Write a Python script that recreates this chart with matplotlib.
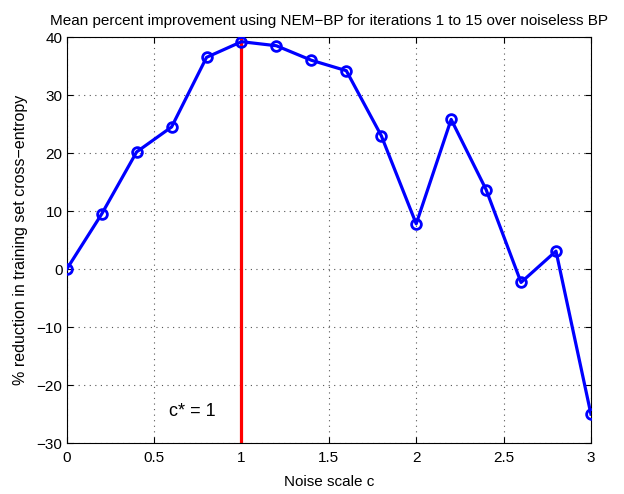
import matplotlib
matplotlib.use("Agg")
import matplotlib.pyplot as plt
import numpy as np

noise_scale = [0.0, 0.2, 0.4, 0.6, 0.8, 1.0, 1.2, 1.4, 1.6, 1.8, 2.0, 2.2, 2.4, 2.6, 2.8, 3.0]
reduction = [0.0, 9.5, 20.2, 24.5, 36.5, 39.2, 38.5, 36.0, 34.2, 23.0, 7.8, 25.8, 13.7, -2.3, 3.1, -25.0]
c_star = 1.0
x_ticks = [0, 0.5, 1, 1.5, 2, 2.5, 3]
x_tick_labels = ["0", "0.5", "1", "1.5", "2", "2.5", "3"]
y_ticks = [-30, -20, -10, 0, 10, 20, 30, 40]

plt.rcParams["font.family"] = ["Liberation Sans", "DejaVu Sans"]

fig = plt.figure(figsize=(6.24, 4.94), dpi=100)
ax = fig.add_axes([0.107, 0.103, 0.840, 0.822])

ax.plot([c_star, c_star], [-30, 40], color="#ff0000", linewidth=2.3, zorder=2)
ax.plot(noise_scale, reduction, color="#0000ff", linewidth=2.3, marker="o",
        markersize=7, markerfacecolor="none", markeredgewidth=2, zorder=3)

ax.text(0.585, -24.6, "c* = 1", fontsize=13, ha="left", va="center")

ax.set_xlim(0, 3)
ax.set_ylim(-30, 40)
ax.set_xticks(x_ticks)
ax.set_xticklabels(x_tick_labels)
ax.set_yticks(y_ticks)
ax.tick_params(direction="in", top=True, right=True, labelsize=11, length=4)
ax.tick_params(axis="x", pad=6)
ax.tick_params(axis="y", pad=3)
ax.grid(True, linestyle=(0, (1, 4)), color="#555555", linewidth=0.8)
for s in ax.spines.values():
    s.set_linewidth(0.8)

ax.set_xlabel("Noise scale c", fontsize=11, labelpad=7)
ax.set_ylabel("% reduction in training set cross\u2212entropy", fontsize=11.5, labelpad=6)
ax.set_title("Mean percent improvement using NEM\u2212BP for iterations 1 to 15 over noiseless BP",
             fontsize=11, pad=9)

fig.savefig("out.png", dpi=100)
